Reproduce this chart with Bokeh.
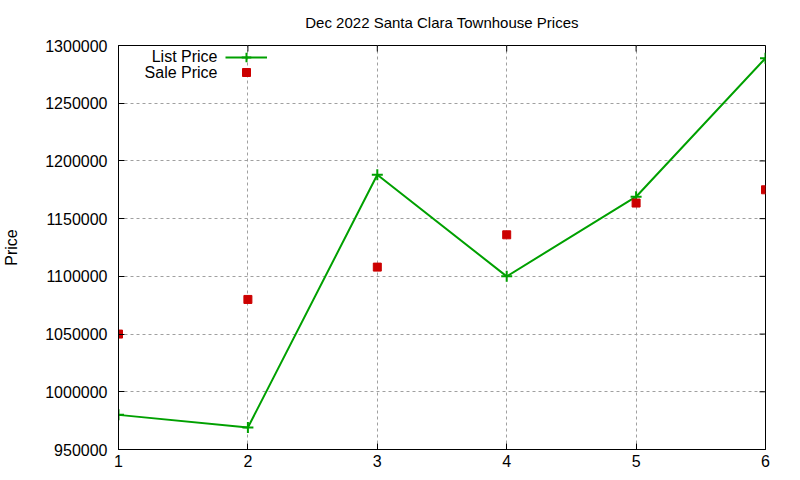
import math
from bokeh.plotting import figure
from bokeh.models import (Range1d, FixedTicker, BasicTickFormatter,
                          Legend, LegendItem, Label, ColumnDataSource)
from bokeh.embed import file_html
from bokeh.resources import INLINE

# ---- data ----
months = [1, 2, 3, 4, 5, 6]
list_price = [980000, 969000, 1188000, 1100000, 1169000, 1289000]
sale_price = [1050000, 1080000, 1108000, 1136000, 1163500, 1175000]
y_ticks = [950000, 1000000, 1050000, 1100000, 1150000, 1200000, 1250000, 1300000]
x_ticks = [1, 2, 3, 4, 5, 6]
title_text = "Dec 2022 Santa Clara Townhouse Prices"
y_label = "Price"
series_names = ["List Price", "Sale Price"]

FONT = "Liberation Sans"
GREEN = "#00a000"
RED = "#cc0000"

src = ColumnDataSource(dict(x=months, lp=list_price, sp=sale_price))

p = figure(width=800, height=480, output_backend="svg", toolbar_location=None,
           x_range=Range1d(x_ticks[0], x_ticks[-1]),
           y_range=Range1d(y_ticks[0], y_ticks[-1]),
           min_border_left=118, min_border_right=35,
           min_border_top=45, min_border_bottom=31)

p.title.text = title_text
p.title.text_font = FONT
p.title.text_font_size = "15px"
p.title.text_font_style = "normal"
p.title.text_color = "black"
p.title.align = "center"
p.title.vertical_align = "top"
p.title.standoff = 25

p.background_fill_color = "white"
p.border_fill_color = "white"
p.outline_line_color = "black"
p.outline_line_width = 1

for ax in (p.xaxis[0], p.yaxis[0]):
    ax.major_label_text_font = FONT
    ax.major_label_text_font_size = "16px"
    ax.major_label_text_color = "black"
    ax.major_tick_in = 6
    ax.major_tick_out = 0
    ax.minor_tick_in = 0
    ax.minor_tick_out = 0
    ax.axis_line_color = "black"
    ax.major_tick_line_color = "black"

p.xaxis.ticker = FixedTicker(ticks=x_ticks)
p.yaxis.ticker = FixedTicker(ticks=y_ticks)
p.yaxis.formatter = BasicTickFormatter(use_scientific=False)
p.xaxis.major_label_standoff = 5
p.yaxis.major_label_standoff = 11
p.yaxis.axis_label = y_label
p.yaxis.axis_label_text_font = FONT
p.yaxis.axis_label_text_font_size = "16px"
p.yaxis.axis_label_text_font_style = "normal"
p.yaxis.axis_label_text_color = "black"
p.yaxis.axis_label_standoff = 22

for g in (p.xgrid[0], p.ygrid[0]):
    g.grid_line_color = "#a0a0a0"
    g.grid_line_dash = "3 3"
    g.grid_line_width = 1
p.xgrid.ticker = FixedTicker(ticks=x_ticks)
p.ygrid.ticker = FixedTicker(ticks=y_ticks)

# mirrored inward ticks on the right and top borders
p.ray(x=[x_ticks[-1]] * len(y_ticks), y=y_ticks, length=6, length_units="screen",
      angle=math.pi, line_color="black", line_width=1)
p.ray(x=x_ticks, y=[y_ticks[-1]] * len(x_ticks), length=6, length_units="screen",
      angle=-math.pi / 2, line_color="black", line_width=1)

ln = p.line("x", "lp", source=src, line_color=GREEN, line_width=2)
cr = p.scatter("x", "lp", source=src, marker="cross", size=11, line_color=GREEN, line_width=2)
sq = p.scatter("x", "sp", source=src, marker="square", size=8, fill_color=RED, line_color=RED)

legend_style = dict(glyph_width=42, label_width=1, label_height=16, spacing=0,
                    padding=0, margin=0, border_line_color=None,
                    background_fill_alpha=0, label_text_font_size="8px",
                    label_standoff=0)
leg1 = Legend(items=[LegendItem(label=" ", renderers=[ln, cr])],
              location=(107, 380), glyph_height=24, **legend_style)
leg2 = Legend(items=[LegendItem(label=" ", renderers=[sq])],
              location=(107, 367), glyph_height=20, **legend_style)
p.add_layout(leg1)
p.add_layout(leg2)

for i, name in enumerate(series_names):
    p.add_layout(Label(x=99, y=393 - 16 * i, x_units="screen", y_units="screen",
                       text=name, text_font=FONT, text_font_size="16px",
                       text_color="black", text_align="right", text_baseline="middle"))

open("out.html", "w").write(file_html(p, INLINE))
